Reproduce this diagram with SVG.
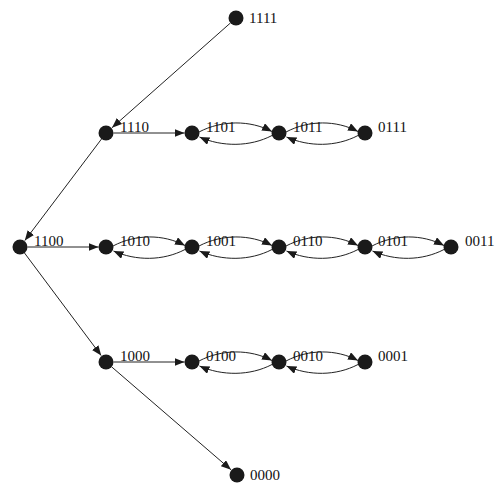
<svg xmlns="http://www.w3.org/2000/svg" width="495" height="489" viewBox="0 0 495 489">
<style>
.n{fill:#1a1a1a}
.t{font-family:"Liberation Serif","Times New Roman",serif;font-size:15px;fill:#111}
.e{fill:none;stroke:#222;stroke-width:1;marker-end:url(#a)}
</style>
<defs>
<marker id="a" markerUnits="userSpaceOnUse" markerWidth="10" markerHeight="8" refX="10" refY="4" orient="auto">
<path d="M0,0 L10,4 L0,8 z" fill="#1a1a1a"/>
</marker>
</defs>
<rect width="495" height="489" fill="#fff"/>
<g id="edges">
<line class="e" x1="230.4" y1="23" x2="112" y2="127.7"/>
<line class="e" x1="101.5" y1="139" x2="24.8" y2="240.6"/>
<line class="e" x1="24.5" y1="253" x2="101.2" y2="355.6"/>
<line class="e" x1="111.7" y1="366.9" x2="231" y2="469.8"/>
<line class="e" x1="113.5" y1="133" x2="184.5" y2="133"/>
<line class="e" x1="27.5" y1="247" x2="98.5" y2="247"/>
<line class="e" x1="113.5" y1="362" x2="184.5" y2="362"/>
<!-- row 1110 -->
<path class="e" d="M199,132 C222,120 250,120 272,131.5"/>
<path class="e" d="M272,135.5 C250,147 222,147 199.5,137"/>
<path class="e" d="M286,132 C309,120 336,120 358,131.5"/>
<path class="e" d="M358,135.5 C336,147 309,147 286.5,137"/>
<!-- row 1100 -->
<path class="e" d="M113,246 C136,234 163,234 185,245.5"/>
<path class="e" d="M185,249.5 C163,261 136,261 113.5,251"/>
<path class="e" d="M199,246 C222,234 250,234 272,245.5"/>
<path class="e" d="M272,249.5 C250,261 222,261 199.5,251"/>
<path class="e" d="M286,246 C309,234 336,234 358,245.5"/>
<path class="e" d="M358,249.5 C336,261 309,261 286.5,251"/>
<path class="e" d="M372,246 C395,234 422,234 444,245.5"/>
<path class="e" d="M444,249.5 C422,261 395,261 372.5,251"/>
<!-- row 1000 -->
<path class="e" d="M199,361 C222,349 250,349 272,360.5"/>
<path class="e" d="M272,364.5 C250,376 222,376 199.5,366"/>
<path class="e" d="M286,361 C309,349 336,349 358,360.5"/>
<path class="e" d="M358,364.5 C336,376 309,376 286.5,366"/>
</g>
<g id="n1111"><circle class="n" cx="236" cy="18" r="7.5"/><text class="t" x="249" y="23">1111</text></g>
<g id="n1110"><circle class="n" cx="106" cy="133" r="7.5"/><text class="t" x="120" y="132">1110</text></g>
<g id="n1101"><circle class="n" cx="192" cy="133" r="7.5"/><text class="t" x="206" y="132">1101</text></g>
<g id="n1011"><circle class="n" cx="279" cy="133" r="7.5"/><text class="t" x="293" y="132">1011</text></g>
<g id="n0111"><circle class="n" cx="365" cy="133" r="7.5"/><text class="t" x="378" y="132">0111</text></g>
<g id="n1100"><circle class="n" cx="20" cy="247" r="7.5"/><text class="t" x="34" y="246">1100</text></g>
<g id="n1010"><circle class="n" cx="106" cy="247" r="7.5"/><text class="t" x="120" y="246">1010</text></g>
<g id="n1001"><circle class="n" cx="192" cy="247" r="7.5"/><text class="t" x="206" y="246">1001</text></g>
<g id="n0110"><circle class="n" cx="279" cy="247" r="7.5"/><text class="t" x="293" y="246">0110</text></g>
<g id="n0101"><circle class="n" cx="365" cy="247" r="7.5"/><text class="t" x="378" y="246">0101</text></g>
<g id="n0011"><circle class="n" cx="451" cy="247" r="7.5"/><text class="t" x="465" y="246">0011</text></g>
<g id="n1000"><circle class="n" cx="106" cy="362" r="7.5"/><text class="t" x="120" y="361">1000</text></g>
<g id="n0100"><circle class="n" cx="192" cy="362" r="7.5"/><text class="t" x="206" y="361">0100</text></g>
<g id="n0010"><circle class="n" cx="279" cy="362" r="7.5"/><text class="t" x="293" y="361">0010</text></g>
<g id="n0001"><circle class="n" cx="365" cy="362" r="7.5"/><text class="t" x="378" y="361">0001</text></g>
<g id="n0000"><circle class="n" cx="237" cy="475" r="7.5"/><text class="t" x="250" y="480">0000</text></g>
</svg>
